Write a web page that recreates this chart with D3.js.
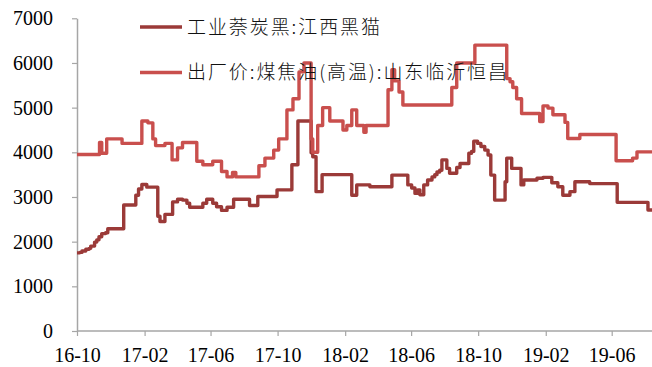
<!DOCTYPE html>
<html><head><meta charset="utf-8">
<script src="https://cdn.jsdelivr.net/npm/d3@7/dist/d3.min.js"></script>
<style>html,body{margin:0;padding:0;background:#fff;overflow:hidden}</style>
</head><body>
<svg id="chart" width="652" height="367"></svg>
<script>
// ---- data ----
const seriesNames = ["工业萘炭黑:江西黑猫", "出厂价:煤焦油(高温):山东临沂恒昌"];
const darkDates = ["2016-10-01","2016-10-06","2016-10-10","2016-10-17","2016-10-23","2016-10-26","2016-11-02","2016-11-06","2016-11-10","2016-11-15","2016-11-22","2016-11-26","2016-12-25","2017-01-16","2017-01-21","2017-01-27","2017-02-05","2017-02-25","2017-03-01","2017-03-10","2017-03-24","2017-04-02","2017-04-11","2017-04-19","2017-04-24","2017-05-18","2017-05-25","2017-06-05","2017-06-12","2017-06-21","2017-07-01","2017-07-13","2017-08-11","2017-08-26","2017-09-30","2017-10-27","2017-11-07","2017-12-01","2017-12-04","2017-12-10","2017-12-21","2018-02-13","2018-02-22","2018-03-18","2018-04-27","2018-05-26","2018-06-02","2018-06-08","2018-06-13","2018-06-17","2018-06-24","2018-07-01","2018-07-09","2018-07-14","2018-07-18","2018-07-23","2018-07-27","2018-08-05","2018-08-10","2018-08-23","2018-08-29","2018-09-14","2018-09-19","2018-09-23","2018-09-30","2018-10-06","2018-10-13","2018-10-19","2018-10-24","2018-10-31","2018-11-19","2018-11-22","2018-12-01","2018-12-18","2018-12-23","2019-01-16","2019-01-27","2019-02-12","2019-02-23","2019-03-04","2019-03-17","2019-03-26","2019-04-22","2019-06-11","2019-08-06","2019-08-25"];
const darkValues = [1750,1760,1790,1830,1850,1900,1990,2040,2110,2180,2200,2290,2820,3040,3180,3280,3220,2570,2450,2610,2890,2950,2930,2860,2770,2860,2950,2860,2780,2700,2770,2950,2810,3010,3160,3720,4700,3990,3900,3120,3500,3040,3270,3230,3490,3270,3200,3080,3160,3050,3270,3380,3450,3500,3560,3600,3830,3640,3530,3660,3750,3980,4020,4250,4200,4130,4050,3940,3490,2930,3340,3870,3640,3270,3380,3420,3440,3320,3230,3040,3120,3340,3300,2880,2710,2710];
const lightDates = ["2016-10-01","2016-11-11","2016-11-15","2016-11-24","2016-12-22","2017-01-27","2017-02-07","2017-02-16","2017-02-21","2017-03-10","2017-03-23","2017-04-02","2017-04-11","2017-05-07","2017-05-18","2017-06-05","2017-06-21","2017-07-01","2017-07-11","2017-07-17","2017-08-28","2017-09-08","2017-09-24","2017-10-03","2017-10-18","2017-10-29","2017-11-09","2017-11-18","2017-12-01","2017-12-04","2017-12-13","2017-12-22","2018-01-04","2018-01-28","2018-02-04","2018-02-13","2018-02-22","2018-03-07","2018-03-11","2018-04-20","2018-04-27","2018-05-02","2018-05-10","2018-05-17","2018-08-14","2018-08-23","2018-09-25","2018-11-22","2018-11-28","2018-12-03","2018-12-10","2018-12-19","2019-01-21","2019-01-27","2019-02-05","2019-02-14","2019-03-08","2019-03-13","2019-04-04","2019-06-09","2019-07-09","2019-07-17","2019-08-25"];
const lightValues = [3950,4220,3980,4300,4200,4700,4660,4300,4150,4200,3830,4100,4220,3800,3720,3800,3570,3450,3550,3450,3700,3870,4050,4300,4950,5200,5800,6000,4300,4000,4600,5000,4700,4500,4600,4950,4600,4450,4600,5400,5850,5600,5350,5060,5450,6000,6400,5650,5580,5450,5200,4870,4690,5040,4990,4840,4670,4310,4400,3810,3870,4010,4010];
const xTickLabels = ["2016-10-01","2017-02-01","2017-06-01","2017-10-01","2018-02-01","2018-06-01","2018-10-01","2019-02-01","2019-06-01"];
const yTicks = [0,1000,2000,3000,4000,5000,6000,7000];

// ---- chart ----
const parse = d3.timeParse("%Y-%m-%d");
const svg = d3.select("#chart");
const x = d3.scaleTime().domain([parse("2016-10-01"), parse("2019-06-01")]).range([77, 611.7]);
const y = d3.scaleLinear().domain([0, 7000]).range([331, 18.3]);
const axisColor = "#a6a6a6";
const tickFont = "'Liberation Serif','Times New Roman',serif";

// x axis
const gx = svg.append("g").attr("transform", "translate(0,331)")
  .call(d3.axisBottom(x).tickValues(xTickLabels.map(parse)).tickFormat(d3.timeFormat("%y-%m")).tickSize(5).tickSizeOuter(0).tickPadding(12));
gx.select(".domain").remove();
gx.append("line").attr("x1", 77).attr("x2", 652).attr("y1", 0).attr("y2", 0).attr("stroke", axisColor).attr("stroke-width", 1.5);
gx.selectAll(".tick line").attr("stroke", axisColor).attr("stroke-width", 1.2);
gx.selectAll(".tick text").attr("fill", "#000").style("font-family", tickFont).style("font-size", "20px");

// y axis
const gy = svg.append("g").attr("transform", "translate(77,0)")
  .call(d3.axisLeft(y).tickValues(yTicks).tickFormat(d3.format("d")).tickSize(5).tickSizeOuter(0).tickPadding(19));
gy.select(".domain").attr("stroke", axisColor).attr("stroke-width", 1.5);
gy.selectAll(".tick line").attr("stroke", axisColor).attr("stroke-width", 1.2);
gy.selectAll(".tick text").attr("fill", "#000").style("font-family", tickFont).style("font-size", "20px");

// lines
const line = d3.line().x(d => x(d.date)).y(d => y(d.value)).curve(d3.curveStepAfter);
const dark = darkDates.map((d, i) => ({date: parse(d), value: darkValues[i]}));
const light = lightDates.map((d, i) => ({date: parse(d), value: lightValues[i]}));
const colors = ["#9b3a38", "#c94f4d"];
svg.append("path").datum(dark).attr("d", line).attr("fill", "none").attr("stroke", colors[0]).attr("stroke-width", 3.4).attr("stroke-linejoin", "round");
svg.append("path").datum(light).attr("d", line).attr("fill", "none").attr("stroke", colors[1]).attr("stroke-width", 3.4).attr("stroke-linejoin", "round");

// legend
const legY = [27, 72.5];
const legW = [193, 320];
seriesNames.forEach((name, i) => {
  svg.append("line").attr("x1", 140).attr("x2", 182).attr("y1", legY[i]).attr("y2", legY[i])
    .attr("stroke", colors[i]).attr("stroke-width", 3.4);
  svg.append("text").attr("x", 187).attr("y", legY[i]).attr("dy", "0.36em")
    .attr("textLength", legW[i]).attr("lengthAdjust", "spacing")
    .style("font-family", "'Noto Sans CJK SC', sans-serif").style("font-size", "19px").style("font-weight", "300")
    .attr("fill", "#111").text(name);
});
</script>
</body></html>
